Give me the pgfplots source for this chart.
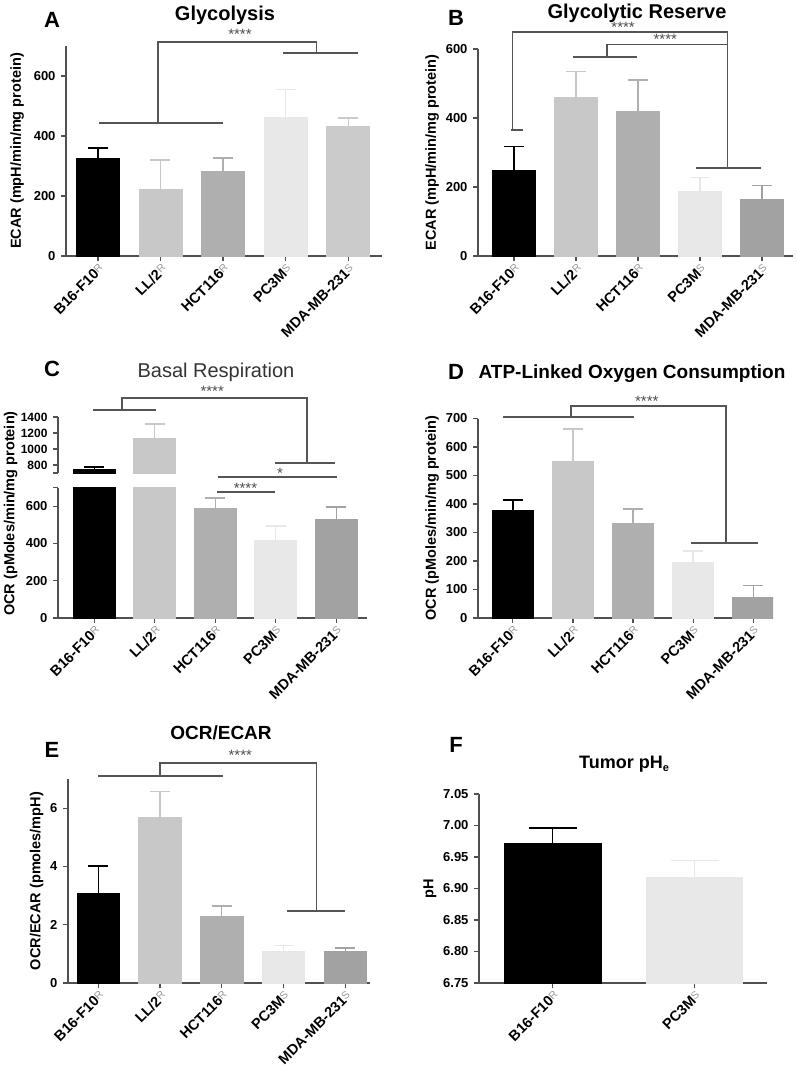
\documentclass[border=0pt]{standalone}
\usepackage{pgfplots}
\pgfplotsset{compat=1.18}
\usepackage{fontspec}
\setmainfont{Liberation Sans}
\definecolor{axc}{HTML}{505050}
\definecolor{brkc}{HTML}{555555}
\definecolor{cLL}{HTML}{C8C8C8}
\definecolor{cHCT}{HTML}{AFAFAF}
\definecolor{cPC}{HTML}{E8E8E8}
\definecolor{cMDAa}{HTML}{CBCBCB}
\definecolor{cMDA}{HTML}{A2A2A2}
\newcommand{\R}{\raisebox{2.5pt}{\textcolor{black!40}{\mdseries\fontsize{10.5}{10}\selectfont R}}}
\newcommand{\Sx}{\raisebox{2.5pt}{\textcolor{black!40}{\mdseries\fontsize{10.5}{10}\selectfont S}}}
\tikzset{
  brk/.style={draw=brkc, line width=1.3pt},
  stars/.style={font=\fontsize{15}{15}\selectfont, text=black!70},
}
\pgfplotsset{
  panel/.style={scale only axis, anchor=south west, axis lines=left,
    axis line style={-, draw=axc, line width=1.2pt},
    every outer x axis line/.append style={-}, every outer y axis line/.append style={-},
    tick style={draw=axc, line width=1.2pt}, tick align=outside, major tick length=5pt,
    ticklabel style={font=\fontsize{13}{13}\selectfont\bfseries, text=black},
    yticklabel style={xshift=-2pt},
    label style={font=\fontsize{14.5}{15}\selectfont\bfseries},
    /pgf/number format/assume math mode=true, /pgf/number format/1000 sep={},
    clip mode=individual, enlargelimits=false,
    xtick={0,1,2,3,4},
    xticklabels={B16-F10\R, LL/2\R, HCT116\R, PC3M\Sx, MDA-MB-231\Sx},
    xticklabel style={rotate=45, anchor=north east, inner sep=1pt, font=\fontsize{14.5}{14.5}\selectfont\bfseries},
  },
  mybar/.style={ybar, bar width=0.69, bar shift=0pt, fill=#1, draw=#1, line width=0.8pt,
    error bars/y dir=plus, error bars/y explicit,
    error bars/error bar style={draw=#1, line width=1.3pt},
    error bars/error mark options={draw=#1, rotate=90, mark size=10pt, line width=1.3pt}},
}
\begin{document}
\begin{tikzpicture}
\path[use as bounding box] (0pt,0pt) rectangle (796pt,-1075pt);
% ---------- A
\begin{axis}[panel, at={(66pt,-256pt)}, width=316pt, height=210pt, ymin=0, ymax=700,
  ytick={0,200,400,600}, xmin=-0.51, xmax=4.54, ylabel={ECAR (mpH/min/mg protein)},
  ylabel style={yshift=3pt}]
\addplot[mybar=black] coordinates {(0,325) +- (0,35)};
\addplot[mybar=cLL] coordinates {(1,222) +- (0,98)};
\addplot[mybar=cHCT] coordinates {(2,282) +- (0,45)};
\addplot[mybar=cPC] coordinates {(3,462) +- (0,93)};
\addplot[mybar=cMDAa] coordinates {(4,433) +- (0,27)};
\draw[brk] (axis cs:0.02,443) -- (axis cs:2,443);
\draw[brk] (axis cs:0.96,443) -- (axis cs:0.96,713) -- (axis cs:3.49,713) -- (axis cs:3.49,677);
\draw[brk] (axis cs:2.96,677) -- (axis cs:4.16,677);
\node[stars] at (axis cs:2.27,740) {****};
\end{axis}
% ---------- B
\begin{axis}[panel, at={(478pt,-256pt)}, width=315pt, height=207pt, ymin=0, ymax=600,
  ytick={0,200,400,600}, xmin=-0.58, xmax=4.5, ylabel={ECAR (mpH/min/mg protein)}]
\addplot[mybar=black] coordinates {(0,247) +- (0,70)};
\addplot[mybar=cLL] coordinates {(1,459) +- (0,75)};
\addplot[mybar=cHCT] coordinates {(2,420) +- (0,90)};
\addplot[mybar=cPC] coordinates {(3,186) +- (0,41)};
\addplot[mybar=cMDA] coordinates {(4,165) +- (0,39)};
\draw[brk] (axis cs:-0.04,365) -- (axis cs:0.15,365);
\draw[brk] (axis cs:-0.02,365) -- (axis cs:-0.02,649) -- (axis cs:3.44,649) -- (axis cs:3.44,255);
\draw[brk] (axis cs:2.94,255) -- (axis cs:3.98,255);
\draw[brk] (axis cs:0.95,577) -- (axis cs:1.98,577);
\draw[brk] (axis cs:1.5,577) -- (axis cs:1.5,614) -- (axis cs:3.44,614);
\node[stars] at (axis cs:1.76,662) {****};
\node[stars] at (axis cs:2.44,628) {****};
\end{axis}
% ---------- C lower
\begin{axis}[panel, at={(58pt,-618pt)}, width=309pt, height=130.5pt, ymin=0, ymax=700,
  ytick={0,200,400,600}, extra y ticks={700}, extra y tick labels={},
  xmin=-0.6, xmax=4.51, ylabel={OCR (pMoles/min/mg protein)},
  ylabel style={at={(axis description cs:-0.12,0.8)}, anchor=south, rotate=0}]
\addplot[mybar=black] coordinates {(0,750) +- (0,25)};
\addplot[mybar=cLL] coordinates {(1,1137) +- (0,175)};
\addplot[mybar=cHCT] coordinates {(2,590) +- (0,53)};
\addplot[mybar=cPC] coordinates {(3,418) +- (0,75)};
\addplot[mybar=cMDA] coordinates {(4,531) +- (0,64)};
\draw[brk] (axis cs:-0.02,1115) -- (axis cs:1.02,1115);
\draw[brk] (axis cs:0.46,1115) -- (axis cs:0.46,1180) -- (axis cs:3.52,1180) -- (axis cs:3.52,831);
\draw[brk] (axis cs:2.99,831) -- (axis cs:3.98,831);
\node[stars] at (axis cs:1.95,1215) {****};
\draw[brk] (axis cs:2.05,756) -- (axis cs:4.02,756);
\node[stars] at (axis cs:3.07,777) {*};
\draw[brk] (axis cs:2.03,676) -- (axis cs:2.99,676);
\node[stars] at (axis cs:2.5,697) {****};
\end{axis}
% ---------- C upper (only the bars that pass the break)
\begin{axis}[panel, at={(58pt,-473pt)}, width=309pt, height=56pt, ymin=700, ymax=1400,
  ytick={800,1000,1200,1400}, extra y ticks={700}, extra y tick labels={},
  yticklabel style={font=\fontsize{12}{12}\selectfont\bfseries},
  xmin=-0.6, xmax=4.51, hide x axis]
\addplot[mybar=black] coordinates {(0,750) +- (0,25)};
\addplot[mybar=cLL] coordinates {(1,1137) +- (0,175)};
\end{axis}
% ---------- D
\begin{axis}[panel, at={(478pt,-618pt)}, width=295pt, height=199.5pt, ymin=0, ymax=700,
  ytick={0,100,200,300,400,500,600,700}, xmin=-0.58, xmax=4.33,
  ylabel={OCR (pMoles/min/mg protein)}]
\addplot[mybar=black] coordinates {(0,379) +- (0,35)};
\addplot[mybar=cLL] coordinates {(1,551) +- (0,112)};
\addplot[mybar=cHCT] coordinates {(2,333) +- (0,49)};
\addplot[mybar=cPC] coordinates {(3,196) +- (0,39)};
\addplot[mybar=cMDA] coordinates {(4,72) +- (0,41)};
\draw[brk] (axis cs:-0.17,705) -- (axis cs:2.02,705);
\draw[brk] (axis cs:0.97,705) -- (axis cs:0.97,744) -- (axis cs:3.55,744) -- (axis cs:3.55,263);
\draw[brk] (axis cs:2.97,263) -- (axis cs:4.08,263);
\node[stars] at (axis cs:2.23,762) {****};
\end{axis}
% ---------- E
\begin{axis}[panel, at={(68pt,-983pt)}, width=302pt, height=204pt, ymin=0, ymax=7,
  ytick={0,2,4,6}, xmin=-0.49, xmax=4.4, ylabel={OCR/ECAR (pmoles/mpH)}]
\addplot[mybar=black] coordinates {(0,3.08) +- (0,0.93)};
\addplot[mybar=cLL] coordinates {(1,5.69) +- (0,0.89)};
\addplot[mybar=cHCT] coordinates {(2,2.3) +- (0,0.34)};
\addplot[mybar=cPC] coordinates {(3,1.07) +- (0,0.21)};
\addplot[mybar=cMDA] coordinates {(4,1.09) +- (0,0.11)};
\draw[brk] (axis cs:0,7.1) -- (axis cs:2.02,7.1);
\draw[brk] (axis cs:1.0,7.1) -- (axis cs:1.0,7.55) -- (axis cs:3.53,7.55) -- (axis cs:3.53,2.47);
\draw[brk] (axis cs:3.06,2.47) -- (axis cs:4.0,2.47);
\node[stars] at (axis cs:2.3,7.8) {****};
\end{axis}
% ---------- F
\begin{axis}[panel, at={(479pt,-983pt)}, width=288pt, height=189pt, ymin=6.75, ymax=7.05,
  ytick={6.75,6.80,6.85,6.90,6.95,7.00,7.05},
  yticklabel style={/pgf/number format/.cd, fixed, fixed zerofill, precision=2},
  xmin=-0.52, xmax=1.51, xtick={0,1}, xticklabels={B16-F10\R, PC3M\Sx}, ylabel={pH}]
\addplot[mybar=black, bar width=0.68, error bars/error mark options={draw=black, rotate=90, mark size=24pt, line width=1.3pt}] coordinates {(0,6.972) +- (0,0.024)};
\addplot[mybar=cPC, bar width=0.68, error bars/error mark options={draw=cPC, rotate=90, mark size=24pt, line width=1.3pt}] coordinates {(1,6.917) +- (0,0.027)};
\end{axis}
% ---------- titles and panel letters
\node[font=\fontsize{20}{20}\selectfont\bfseries] at (225pt,-15pt) {Glycolysis};
\node[font=\fontsize{20}{20}\selectfont\bfseries] at (637pt,-13pt) {Glycolytic Reserve};
\node[font=\fontsize{20}{20}\selectfont, text=black!80] at (216pt,-372pt) {Basal Respiration};
\node[font=\fontsize{19}{19}\selectfont\bfseries] at (632pt,-374pt) {ATP-Linked Oxygen Consumption};
\node[font=\fontsize{19}{19}\selectfont\bfseries] at (221pt,-733pt) {OCR/ECAR};
\node[font=\fontsize{18}{18}\selectfont\bfseries] at (624pt,-764pt) {Tumor pH\raisebox{-3pt}{\fontsize{11}{11}\selectfont e}};
\node[font=\fontsize{22}{22}\selectfont\bfseries] at (52pt,-20pt) {A};
\node[font=\fontsize{22}{22}\selectfont\bfseries] at (456pt,-18pt) {B};
\node[font=\fontsize{22}{22}\selectfont\bfseries] at (52pt,-369pt) {C};
\node[font=\fontsize{22}{22}\selectfont\bfseries] at (456pt,-372pt) {D};
\node[font=\fontsize{22}{22}\selectfont\bfseries] at (52pt,-750pt) {E};
\node[font=\fontsize{22}{22}\selectfont\bfseries] at (456pt,-745pt) {F};
\end{tikzpicture}
\end{document}
